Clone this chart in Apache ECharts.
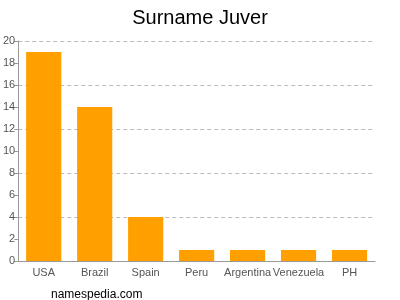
<!DOCTYPE html>
<html><head><meta charset="utf-8">
<script src="https://cdn.jsdelivr.net/npm/echarts@6/dist/echarts.min.js"></script>
<style>html,body{margin:0;padding:0;background:#fff}#c{width:400px;height:300px}</style>
</head><body><div id="c"></div>
<script>
const categories = ["USA","Brazil","Spain","Peru","Argentina","Venezuela","PH"];
const values = [19,14,4,1,1,1,1];
const titleText = "Surname Juver";
const footerText = "namespedia.com";

const chart = echarts.init(document.getElementById('c'), null, {renderer:'canvas'});
const font = 'Arial, "Liberation Sans", sans-serif';
chart.setOption({
  animation:false,
  title:[{text:titleText,left:'center',top:3,textStyle:{fontFamily:font,fontSize:20,fontWeight:'normal',color:'#000'}},
         {text:footerText,left:46,top:284,textStyle:{fontFamily:font,fontSize:12,fontWeight:'normal',color:'#000'}}],
  grid:{left:18,right:25,top:41,bottom:39},
  xAxis:{type:'category',data:categories,
    axisLine:{lineStyle:{color:'#999'}},axisTick:{show:false},
    axisLabel:{fontFamily:font,fontSize:11,color:'#555',interval:0,margin:6}},
  yAxis:[{type:'value',min:0,max:20,interval:2,
    axisLine:{show:true,lineStyle:{color:'#999'}},
    axisTick:{show:true,length:4,lineStyle:{color:'#999'}},
    axisLabel:{fontFamily:font,fontSize:11,color:'#555',margin:3},
    splitLine:{show:false}},
    {type:'value',min:0,max:20,interval:4,position:'left',
    axisLine:{show:false},axisTick:{show:false},axisLabel:{show:false},
    splitLine:{show:true,lineStyle:{color:'#bbb',type:[4,3]}}}],
  series:[{type:'bar',data:values,barWidth:'69%',itemStyle:{color:'#FFA000'}}]
});
</script></body></html>
